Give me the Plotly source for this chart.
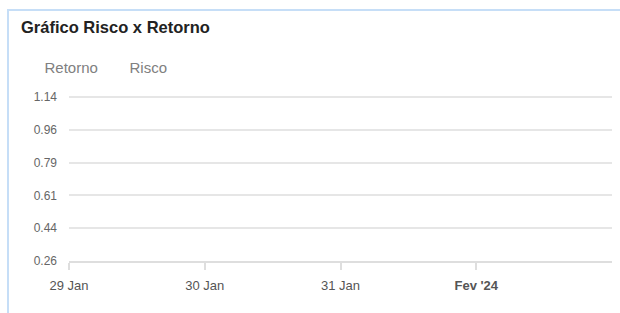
import plotly.graph_objects as go

# ---- data ----
series_names = ["Retorno", "Risco"]
retorno_x, retorno_y = [None], [None]
risco_x, risco_y = [None], [None]
y_tick_vals = [0.26, 0.436, 0.612, 0.788, 0.964, 1.14]
y_tick_text = ["0.26", "0.44", "0.61", "0.79", "0.96", "1.14"]
x_tick_vals = ["2024-01-29", "2024-01-30", "2024-01-31", "2024-02-01"]
x_tick_text = ["29 Jan", "30 Jan", "31 Jan", "<b>Fev '24</b>"]
x_range = ["2024-01-29", "2024-02-02"]
title_text = "Gráfico Risco x Retorno"

# ---- layout constants ----
W, H = 620, 313
ML, MR, MT, MB = 69, 8, 95, 52
plot_w = W - ML - MR
plot_h = H - MT - MB
px_per_unit = 164 / 0.88
y_range = [0.26, 0.26 + plot_h / px_per_unit]

FONT = "Liberation Sans, Arial, Helvetica, sans-serif"
GRID = "#e6e6e6"
BORDER = "#c6def7"

fig = go.Figure()
fig.add_trace(go.Scatter(x=retorno_x, y=retorno_y, name=series_names[0], mode="markers",
                         showlegend=True, marker=dict(color="rgba(0,0,0,0)", size=1)))
fig.add_trace(go.Scatter(x=risco_x, y=risco_y, name=series_names[1], mode="markers",
                         showlegend=True, marker=dict(color="rgba(0,0,0,0)", size=1)))

def px_x(p):
    return (p - ML) / plot_w

def px_y(p):
    return (H - MB - p) / plot_h

border_path = "M {:.5f},{:.5f} L {:.5f},{:.5f} L {:.5f},{:.5f}".format(
    px_x(8), px_y(H), px_x(8), px_y(10), px_x(W + 5), px_y(10))

fig.update_layout(
    template="none",
    width=W, height=H,
    margin=dict(l=ML, r=MR, t=MT, b=MB, pad=0, autoexpand=False),
    paper_bgcolor="white", plot_bgcolor="white",
    font=dict(family=FONT, color="#666666", size=13),
    showlegend=True,
    legend=dict(orientation="h", x=px_x(44.5 - 40), y=px_y(67.5), xanchor="left", yanchor="middle",
                font=dict(size=15, color="#808080"), itemwidth=30,
                entrywidth=40, entrywidthmode="pixels",
                bgcolor="rgba(0,0,0,0)", borderwidth=0),
    xaxis=dict(type="date", range=x_range, showgrid=False, zeroline=False, automargin=False,
               showline=True, linecolor="#dedede", linewidth=2,
               ticks="outside", ticklen=7, tickcolor="#dedede", tickwidth=1.5,
               tickvals=x_tick_vals, ticktext=x_tick_text,
               tickfont=dict(size=13, color="#555555"), ticklabelstandoff=4),
    yaxis=dict(range=y_range, showgrid=True, gridcolor=GRID, gridwidth=1.5, automargin=False,
               zeroline=False, showline=False, ticks="",
               tickvals=y_tick_vals, ticktext=y_tick_text,
               tickfont=dict(size=12, color="#666666"), ticklabelstandoff=11),
    annotations=[dict(text="<b>" + title_text + "</b>", xref="paper", yref="paper",
                      x=px_x(19), y=px_y(27), xanchor="left", yanchor="middle",
                      showarrow=False, font=dict(size=16.5, color="#222222", family=FONT))],
    shapes=[
        dict(type="path", xref="paper", yref="paper", path=border_path,
             line=dict(color=BORDER, width=2), fillcolor="rgba(0,0,0,0)"),
    ],
)

fig.write_html("out.html", config={"displayModeBar": False},
               post_script="document.body.style.margin='0';document.body.style.overflow='hidden';")
